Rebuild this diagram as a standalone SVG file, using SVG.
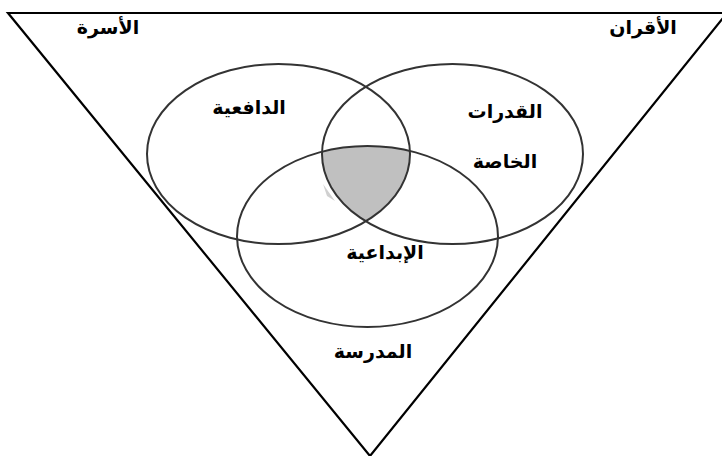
<svg xmlns="http://www.w3.org/2000/svg" width="722" height="456" viewBox="0 0 722 456">
<style>
.ring{fill:none;stroke:#333;stroke-width:2}
.lbl{font-family:"DejaVu Sans","Liberation Sans",sans-serif;font-weight:bold;font-size:19px;fill:#000;text-anchor:middle}
</style>
<defs>
<clipPath id="cL"><ellipse cx="278.5" cy="154" rx="131.5" ry="90"/></clipPath>
<clipPath id="cR"><ellipse cx="452.5" cy="154" rx="130.5" ry="90"/></clipPath>
</defs>
<rect width="722" height="456" fill="#fff"/>
<g id="frame">
<polygon points="8,13 727,13 370,456" fill="none" stroke="#000" stroke-width="2.2"/>
</g>
<g id="shade">
<g clip-path="url(#cL)"><g clip-path="url(#cR)"><ellipse cx="367.5" cy="236.5" rx="130.5" ry="90.5" fill="#c0c0c0"/></g></g>
<polygon points="323,184 327,196 335,201" fill="#d0d0d0"/>
</g>
<g id="family"><text class="lbl" x="108" y="34">الأسرة</text></g>
<g id="peers"><text class="lbl" x="643" y="34">الأقران</text></g>
<g id="motivation">
<ellipse class="ring" cx="278.5" cy="154" rx="131.5" ry="90"/>
<text class="lbl" x="249" y="114">الدافعية</text>
</g>
<g id="abilities">
<ellipse class="ring" cx="452.5" cy="154" rx="130.5" ry="90"/>
<text class="lbl" x="505" y="118">القدرات</text>
<text class="lbl" x="505" y="168">الخاصة</text>
</g>
<g id="creativity">
<ellipse class="ring" cx="367.5" cy="236.5" rx="130.5" ry="90.5"/>
<text class="lbl" x="385" y="259">الإبداعية</text>
</g>
<g id="school"><text class="lbl" x="373" y="358">المدرسة</text></g>
<g id="connectors"/>
</svg>
